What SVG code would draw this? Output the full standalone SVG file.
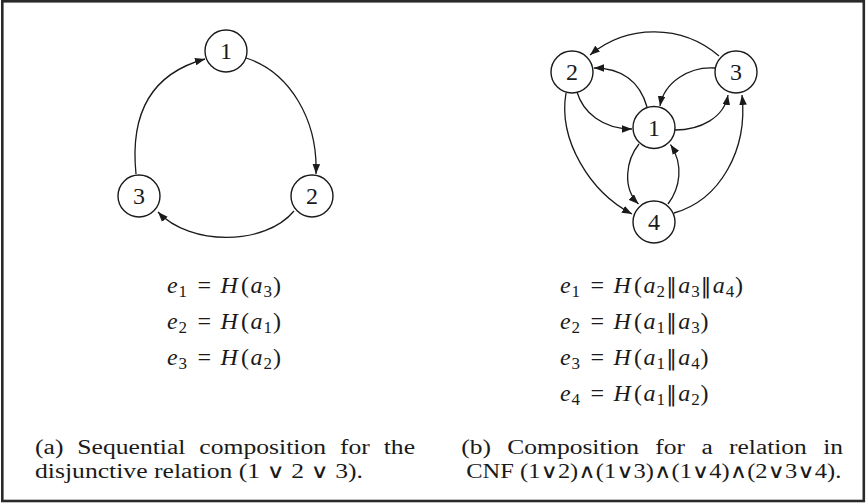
<svg xmlns="http://www.w3.org/2000/svg" width="866" height="503" viewBox="0 0 866 503">
<style>
.bg{fill:#fff}
.frame{fill:none;stroke:#2a2a2a;stroke-width:2.6}
.n circle{fill:#fff;stroke:#1a1a1a;stroke-width:1.4}
.n text{font-family:'Liberation Serif','Times New Roman',Times,serif;font-size:24px;text-anchor:middle;fill:#1a1a1a}
.c path{fill:none;stroke:#1a1a1a;stroke-width:1.3;marker-end:url(#ah)}
.t{font-family:'Liberation Serif','Times New Roman',Times,serif;font-size:24px;fill:#1a1a1a}
.cap{font-family:'Liberation Serif','Times New Roman',Times,serif;font-size:20.5px;fill:#1a1a1a}
.i{font-style:italic}
.s{font-size:17px;font-style:normal}
.v{font-family:'DejaVu Sans',sans-serif;font-size:21px}
.sym{font-family:'DejaVu Sans',sans-serif;font-size:20px}
</style>
<defs>
<marker id="ah" viewBox="0 0 10 8" refX="10" refY="4" markerWidth="10" markerHeight="8" markerUnits="userSpaceOnUse" orient="auto">
<path d="M0,0.2 L10,4 L0,7.8 Z" fill="#1a1a1a"/>
</marker>
</defs>
<rect class="bg" x="0" y="0" width="866" height="503"/>
<rect class="frame" x="2.3" y="1.3" width="861.5" height="499.7"/>

<g id="connectors" class="c">
<path d="M136,174 C 130,115 150,74 205,59"/>
<path d="M246,58 C 290,72 318,120 316,174"/>
<path d="M294,211 C 265,246 190,246 158,212"/>
<path d="M719,56 A 100 100 0 0 0 590,55"/>
<path d="M647,107 C 640,82 622,68 594,68"/>
<path d="M577,92 C 583,112 602,129 632,129"/>
<path d="M715,68 C 690,66 664,82 660,106"/>
<path d="M675,130 C 700,130 724,118 728,95"/>
<path d="M566,93 C 558,140 590,192 632,214"/>
<path d="M639,144 C 626,160 622,188 638.5,204"/>
<path d="M668,204 C 680,188 684,165 670.5,144.5"/>
<path d="M674,213 C 720,200 748,150 742,95"/>
</g>

<g id="a-node-1" class="n"><circle cx="226" cy="51" r="21"/><text x="226" y="59">1</text></g>
<g id="a-node-2" class="n"><circle cx="312" cy="196" r="21"/><text x="312" y="204">2</text></g>
<g id="a-node-3" class="n"><circle cx="139" cy="196" r="21"/><text x="139" y="204">3</text></g>

<g id="b-node-1" class="n"><circle cx="654" cy="127.5" r="21"/><text x="654" y="135.5">1</text></g>
<g id="b-node-2" class="n"><circle cx="572" cy="72" r="21"/><text x="572" y="80">2</text></g>
<g id="b-node-3" class="n"><circle cx="736" cy="72" r="21"/><text x="736" y="80">3</text></g>
<g id="b-node-4" class="n"><circle cx="654" cy="222" r="21"/><text x="654" y="230">4</text></g>

<g id="eq-a">
<text class="t" y="293"><tspan class="i" x="167">e</tspan><tspan class="s" x="178.5" y="297">1</tspan><tspan x="197.4" y="293">=</tspan><tspan class="i" x="220.6">H</tspan><tspan x="241">(</tspan><tspan class="i" x="250.6">a</tspan><tspan class="s" x="263.6" y="297">3</tspan><tspan x="272.9" y="293">)</tspan></text>
<text class="t" y="329"><tspan class="i" x="167">e</tspan><tspan class="s" x="178.5" y="333">2</tspan><tspan x="197.4" y="329">=</tspan><tspan class="i" x="220.6">H</tspan><tspan x="241">(</tspan><tspan class="i" x="250.6">a</tspan><tspan class="s" x="263.6" y="333">1</tspan><tspan x="272.9" y="329">)</tspan></text>
<text class="t" y="365"><tspan class="i" x="167">e</tspan><tspan class="s" x="178.5" y="369">3</tspan><tspan x="197.4" y="365">=</tspan><tspan class="i" x="220.6">H</tspan><tspan x="241">(</tspan><tspan class="i" x="250.6">a</tspan><tspan class="s" x="263.6" y="369">2</tspan><tspan x="272.9" y="365">)</tspan></text>
</g>

<g id="eq-b">
<text class="t" y="293"><tspan class="i" x="560">e</tspan><tspan class="s" x="571.5" y="297">1</tspan><tspan x="590.4" y="293">=</tspan><tspan class="i" x="613.6">H</tspan><tspan x="634">(</tspan><tspan class="i" x="643.6">a</tspan><tspan class="s" x="656.6" y="297">2</tspan><tspan class="v" x="666.2" y="293">‖</tspan><tspan class="i" x="678.2">a</tspan><tspan class="s" x="691.2" y="297">3</tspan><tspan class="v" x="700.8" y="293">‖</tspan><tspan class="i" x="712.8">a</tspan><tspan class="s" x="725.8" y="297">4</tspan><tspan x="735.1" y="293">)</tspan></text>
<text class="t" y="329"><tspan class="i" x="560">e</tspan><tspan class="s" x="571.5" y="333">2</tspan><tspan x="590.4" y="329">=</tspan><tspan class="i" x="613.6">H</tspan><tspan x="634">(</tspan><tspan class="i" x="643.6">a</tspan><tspan class="s" x="656.6" y="333">1</tspan><tspan class="v" x="666.2" y="329">‖</tspan><tspan class="i" x="678.2">a</tspan><tspan class="s" x="691.2" y="333">3</tspan><tspan x="700.5" y="329">)</tspan></text>
<text class="t" y="365"><tspan class="i" x="560">e</tspan><tspan class="s" x="571.5" y="369">3</tspan><tspan x="590.4" y="365">=</tspan><tspan class="i" x="613.6">H</tspan><tspan x="634">(</tspan><tspan class="i" x="643.6">a</tspan><tspan class="s" x="656.6" y="369">1</tspan><tspan class="v" x="666.2" y="365">‖</tspan><tspan class="i" x="678.2">a</tspan><tspan class="s" x="691.2" y="369">4</tspan><tspan x="700.5" y="365">)</tspan></text>
<text class="t" y="401"><tspan class="i" x="560">e</tspan><tspan class="s" x="571.5" y="405">4</tspan><tspan x="590.4" y="401">=</tspan><tspan class="i" x="613.6">H</tspan><tspan x="634">(</tspan><tspan class="i" x="643.6">a</tspan><tspan class="s" x="656.6" y="405">1</tspan><tspan class="v" x="666.2" y="401">‖</tspan><tspan class="i" x="678.2">a</tspan><tspan class="s" x="691.2" y="405">2</tspan><tspan x="700.5" y="401">)</tspan></text>
</g>

<g id="caption-a">
<text class="cap" x="35" y="454" word-spacing="6" textLength="380" lengthAdjust="spacingAndGlyphs">(a) Sequential composition for the</text>
<text class="cap" x="35" y="477.5" textLength="328" lengthAdjust="spacingAndGlyphs">disjunctive relation (1 <tspan class="sym">∨</tspan> 2 <tspan class="sym">∨</tspan> 3).</text>
</g>

<g id="caption-b">
<text class="cap" x="461.3" y="454" word-spacing="8" textLength="381.7" lengthAdjust="spacingAndGlyphs">(b) Composition for a relation in</text>
<text class="cap" x="466.3" y="477.5" textLength="375" lengthAdjust="spacingAndGlyphs">CNF (1<tspan class="sym">∨</tspan>2)<tspan class="sym">∧</tspan>(1<tspan class="sym">∨</tspan>3)<tspan class="sym">∧</tspan>(1<tspan class="sym">∨</tspan>4)<tspan class="sym">∧</tspan>(2<tspan class="sym">∨</tspan>3<tspan class="sym">∨</tspan>4).</text>
</g>
</svg>
